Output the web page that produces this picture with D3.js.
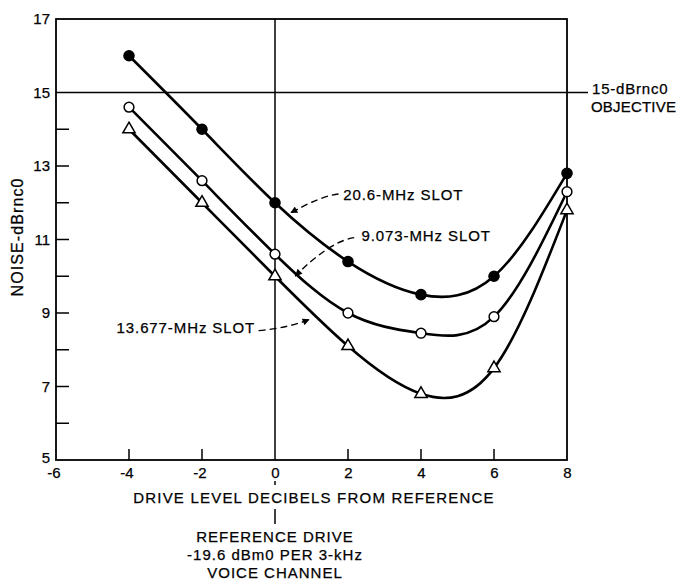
<!DOCTYPE html>
<html>
<head>
<meta charset="utf-8">
<script src="https://cdn.jsdelivr.net/npm/d3@7"></script>
<style>
  body { margin: 0; background: #fff; }
  svg text { font-family: "Liberation Sans", Arial, sans-serif; fill: #000; stroke: #000; stroke-width: 0.25px; }
</style>
</head>
<body>
<div id="chart"></div>
<script>
// Data
var drive = [-4, -2, 0, 2, 4, 6, 8];
var slot206 = [16.0, 14.0, 12.0, 10.4, 9.5, 10.0, 12.8];
var slot9073 = [14.6, 12.6, 10.6, 9.0, 8.45, 8.9, 12.3];
var slot13677 = [14.0, 12.0, 10.0, 8.1, 6.8, 7.5, 11.8];
var xTickLabels = [-6, -4, -2, 0, 2, 4, 6, 8];
var yTickLabels = [5, 7, 9, 11, 13, 15, 17];
var yMinorTicks = [6, 7, 8, 9, 10, 11, 12, 13, 14];
var objective = 15;

var w = 680, h = 580;

var x = d3.scaleLinear().domain([-6, 8]).range([56, 567]);
var y = d3.scaleLinear().domain([5, 17]).range([460, 19]);

var svg = d3.select("#chart").append("svg")
    .attr("width", w)
    .attr("height", h);

// frame
svg.append("rect")
    .attr("x", x(-6)).attr("y", y(17))
    .attr("width", x(8) - x(-6)).attr("height", y(5) - y(17))
    .attr("fill", "none").attr("stroke", "#000").attr("stroke-width", 1.8);

// reference lines: 0 dB drive and 15 dBrnc0 objective
svg.append("line")
    .attr("x1", x(0)).attr("x2", x(0))
    .attr("y1", y(17)).attr("y2", y(5))
    .attr("stroke", "#000").attr("stroke-width", 1.5);
svg.append("line")
    .attr("x1", x(-6)).attr("x2", 588)
    .attr("y1", y(objective)).attr("y2", y(objective))
    .attr("stroke", "#000").attr("stroke-width", 1.5);

// inward ticks
svg.selectAll("line.xt")
    .data([-4, -2, 2, 4, 6])
    .enter().append("line")
    .attr("class", "xt")
    .attr("x1", function (d) { return x(d); })
    .attr("x2", function (d) { return x(d); })
    .attr("y1", y(5)).attr("y2", y(5) - 11)
    .attr("stroke", "#000").attr("stroke-width", 1.5);

svg.selectAll("line.yt")
    .data(yMinorTicks)
    .enter().append("line")
    .attr("class", "yt")
    .attr("x1", x(-6)).attr("x2", x(-6) + 13)
    .attr("y1", function (d) { return y(d); })
    .attr("y2", function (d) { return y(d); })
    .attr("stroke", "#000").attr("stroke-width", 1.5);

// tick labels
svg.selectAll("text.xl")
    .data(xTickLabels)
    .enter().append("text")
    .attr("class", "xl")
    .attr("x", function (d) { return x(d) + 4.5; })
    .attr("y", 478)
    .attr("text-anchor", "end")
    .attr("font-size", 15)
    .text(function (d) { return d < 0 ? "-" + Math.abs(d) : d; });

svg.selectAll("text.yl")
    .data(yTickLabels)
    .enter().append("text")
    .attr("class", "yl")
    .attr("x", 50)
    .attr("y", function (d) { return d === 5 ? y(d) - 2 : y(d); })
    .attr("dy", "0.35em")
    .attr("text-anchor", "end")
    .attr("font-size", 15)
    .text(function (d) { return d; });

// axis titles
svg.append("text")
    .attr("transform", "translate(23,237) rotate(-90)")
    .attr("text-anchor", "middle")
    .attr("font-size", 16)
    .attr("letter-spacing", 1.1)
    .text("NOISE-dBrnc0");

svg.append("text")
    .attr("x", 314).attr("y", 503)
    .attr("text-anchor", "middle")
    .attr("font-size", 15)
    .attr("letter-spacing", 1.2)
    .text("DRIVE LEVEL DECIBELS FROM REFERENCE");

// reference drive note under the 0 tick
svg.append("line")
    .attr("x1", x(0)).attr("x2", x(0))
    .attr("y1", 481).attr("y2", 485)
    .attr("stroke", "#000").attr("stroke-width", 1.5);
svg.append("line")
    .attr("x1", x(0)).attr("x2", x(0))
    .attr("y1", 509).attr("y2", 524)
    .attr("stroke", "#000").attr("stroke-width", 1.5);

var note = ["REFERENCE DRIVE", "-19.6 dBm0 PER 3-kHz", "VOICE CHANNEL"];
svg.selectAll("text.note")
    .data(note)
    .enter().append("text")
    .attr("class", "note")
    .attr("x", x(0))
    .attr("y", function (d, i) { return 542 + i * 18; })
    .attr("text-anchor", "middle")
    .attr("font-size", 15)
    .attr("letter-spacing", 1)
    .text(function (d) { return d; });

svg.append("text")
    .attr("x", 592).attr("y", 94)
    .attr("font-size", 15)
    .attr("letter-spacing", 0.8)
    .text("15-dBrnc0");
svg.append("text")
    .attr("x", 591).attr("y", 112)
    .attr("font-size", 15)
    .attr("letter-spacing", 0.2)
    .text("OBJECTIVE");

// curves
var series = [
    { name: "20.6-MHz SLOT", values: slot206, marker: "dot" },
    { name: "9.073-MHz SLOT", values: slot9073, marker: "ring" },
    { name: "13.677-MHz SLOT", values: slot13677, marker: "tri" }
];

var line = d3.line()
    .x(function (d, i) { return x(drive[i]); })
    .y(function (d) { return y(d); })
    .curve(d3.curveNatural);

svg.selectAll("path.curve")
    .data(series)
    .enter().append("path")
    .attr("class", "curve")
    .attr("d", function (s) { return line(s.values); })
    .attr("fill", "none")
    .attr("stroke", "#000")
    .attr("stroke-width", 2.6);

// markers
series.forEach(function (s) {
    var g = svg.append("g");
    var pts = g.selectAll("path")
        .data(s.values)
        .enter().append("path")
        .attr("transform", function (d, i) {
            return "translate(" + x(drive[i]) + "," + y(d) + ")";
        })
        .attr("stroke", "#000")
        .attr("stroke-width", 1.5);
    if (s.marker === "dot") {
        pts.attr("d", d3.symbol(d3.symbolCircle, 80)).attr("fill", "#000");
    } else if (s.marker === "ring") {
        pts.attr("d", d3.symbol(d3.symbolCircle, 75)).attr("fill", "#fff");
    } else {
        pts.attr("d", d3.symbol(d3.symbolTriangle, 65)).attr("fill", "#fff");
    }
});

// callouts with dashed leaders (positions in data units)
var callouts = [
    { text: "20.6-MHz SLOT", tx: 1.87, ty: 12.07, from: [1.74, 12.24], ctrl: [1.3, 12.2], to: [0.42, 11.72] },
    { text: "9.073-MHz SLOT", tx: 2.37, ty: 10.95, from: [2.17, 11.05], ctrl: [1.5, 10.95], to: [0.55, 10.0] },
    { text: "13.677-MHz SLOT", tx: -4.34, ty: 8.45, from: [-0.45, 8.52], ctrl: [0.4, 8.6], to: [0.95, 8.83] }
];

var defs = svg.append("defs");
defs.append("marker")
    .attr("id", "arrow")
    .attr("viewBox", "0 0 10 10")
    .attr("refX", 10).attr("refY", 5)
    .attr("markerWidth", 9).attr("markerHeight", 7)
    .attr("markerUnits", "userSpaceOnUse")
    .attr("orient", "auto")
    .append("path")
    .attr("d", "M0,0 L10,5 L0,10 z")
    .attr("fill", "#000");

svg.selectAll("path.leader")
    .data(callouts)
    .enter().append("path")
    .attr("class", "leader")
    .attr("d", function (c) {
        return "M" + x(c.from[0]) + "," + y(c.from[1]) +
            " Q" + x(c.ctrl[0]) + "," + y(c.ctrl[1]) +
            " " + x(c.to[0]) + "," + y(c.to[1]);
    })
    .attr("fill", "none")
    .attr("stroke", "#000")
    .attr("stroke-width", 1.4)
    .attr("stroke-dasharray", "7,4")
    .attr("marker-end", "url(#arrow)");

svg.selectAll("text.callout")
    .data(callouts)
    .enter().append("text")
    .attr("class", "callout")
    .attr("x", function (c) { return x(c.tx); })
    .attr("y", function (c) { return y(c.ty); })
    .attr("font-size", 15)
    .attr("letter-spacing", 0.9)
    .text(function (c) { return c.text; });
</script>
</body>
</html>
